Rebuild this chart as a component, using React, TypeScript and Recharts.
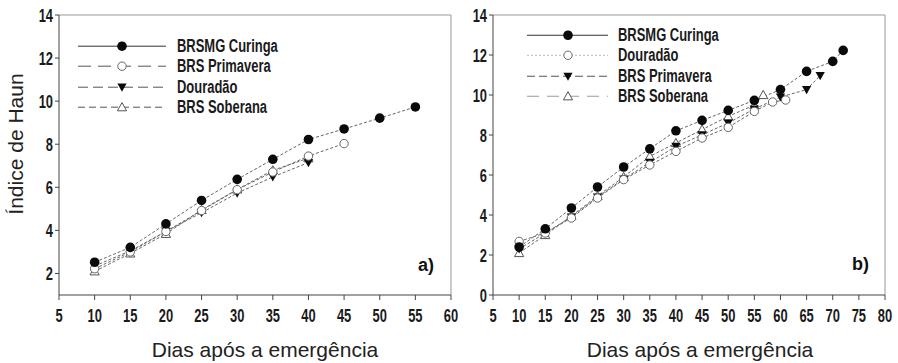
import React from 'react';
import { LineChart, Line, XAxis, YAxis, ReferenceLine, Legend } from 'recharts';

// ---------- Data ----------
const daysA = [10, 15, 20, 25, 30, 35, 40, 45, 50, 55];
const curingaA = [2.52, 3.21, 4.3, 5.39, 6.37, 7.3, 8.22, 8.71, 9.21, 9.73];
const primaveraA = [2.22, 3.0, 3.95, 4.92, 5.89, 6.71, 7.45, 8.03];
const douradaoA = [2.35, 3.05, 3.95, 4.82, 5.73, 6.48, 7.15];
const soberanaA = [2.1, 2.93, 3.84, 4.95, 5.9, 6.79, 7.35];

const curingaBx = [10, 15, 20, 25, 30, 35, 40, 45, 50, 55, 60, 65, 70, 72];
const curingaBy = [2.4, 3.31, 4.35, 5.4, 6.4, 7.31, 8.21, 8.73, 9.23, 9.73, 10.27, 11.18, 11.68, 12.23];
const douradaoBx = [10, 15, 20, 25, 30, 35, 40, 45, 50, 55, 58.5, 61];
const douradaoBy = [2.68, 3.1, 3.85, 4.85, 5.77, 6.5, 7.18, 7.85, 8.38, 9.18, 9.65, 9.75];
const primaveraBx = [10, 15, 20, 25, 30, 35, 40, 45, 50, 55, 60, 65, 67.6];
const primaveraBy = [2.3, 3.1, 3.9, 4.9, 5.8, 6.63, 7.43, 8.01, 8.6, 9.3, 9.9, 10.27, 10.97];
const soberanaBx = [10, 15, 20, 25, 30, 35, 40, 45, 50, 55, 56.7];
const soberanaBy = [2.1, 3.0, 3.95, 4.95, 5.9, 6.93, 7.6, 8.27, 8.93, 9.5, 10.0];

const xTicksA = [5, 10, 15, 20, 25, 30, 35, 40, 45, 50, 55, 60];
const xTicksB = [5, 10, 15, 20, 25, 30, 35, 40, 45, 50, 55, 60, 65, 70, 75, 80];
const yTicksA = [2, 4, 6, 8, 10, 12, 14];
const yTicksB = [0, 2, 4, 6, 8, 10, 12, 14];

const xTitle = 'Dias após a emergência';
const yTitle = 'Índice de Haun';

// ---------- Helpers ----------
const pts = (xs: number[], ys: number[]) => ys.map((y, i) => ({ x: xs[i], y }));

type MarkerKind = 'filledCircle' | 'openCircle' | 'filledDown' | 'openUp';

const Marker = ({ kind, cx, cy }: { kind: MarkerKind; cx: number; cy: number }) => {
  if (kind === 'filledCircle') return <circle cx={cx} cy={cy} r={4.8} fill="#0a0a0a" />;
  if (kind === 'openCircle')
    return <circle cx={cx} cy={cy} r={4.2} fill="#fff" stroke="#666" strokeWidth={1} />;
  if (kind === 'filledDown')
    return (
      <polygon
        points={`${cx - 4.6},${cy - 3.6} ${cx + 4.6},${cy - 3.6} ${cx},${cy + 4.6}`}
        fill="#0a0a0a"
      />
    );
  return (
    <polygon
      points={`${cx - 4.6},${cy + 3.6} ${cx + 4.6},${cy + 3.6} ${cx},${cy - 4.6}`}
      fill="#fff"
      stroke="#555"
      strokeWidth={1}
    />
  );
};

const dotFn = (kind: MarkerKind) => (props: any) => {
  const { cx, cy, index } = props;
  if (cx == null || cy == null) return <g key={`e${index}`} />;
  return (
    <g key={`d${index}`}>
      <Marker kind={kind} cx={cx} cy={cy} />
    </g>
  );
};

const tickFont = "'Liberation Sans', Arial, sans-serif";

const XTick = (props: any) => {
  const { x, y, payload } = props;
  return (
    <g transform={`translate(${x},${y})`}>
      <text
        transform="scale(0.68,1)"
        textAnchor="middle"
        dy="0.71em"
        fontSize={19}
        fontFamily={tickFont}
        fontWeight="bold"
        fill="#1a1a1a"
      >
        {payload.value}
      </text>
    </g>
  );
};

const YTick = (props: any) => {
  const { x, y, payload } = props;
  return (
    <g transform={`translate(${x},${y})`}>
      <text
        transform="scale(0.68,1)"
        textAnchor="end"
        dy="0.36em"
        fontSize={19}
        fontFamily={tickFont}
        fontWeight="bold"
        fill="#1a1a1a"
      >
        {payload.value}
      </text>
    </g>
  );
};

const XLabel = (props: any) => {
  const { viewBox, dx } = props;
  if (!viewBox) return null;
  return (
    <text
      x={viewBox.x + viewBox.width / 2 + dx}
      y={viewBox.y + 62}
      textAnchor="middle"
      fontSize={21}
      fontFamily={tickFont}
      fill="#222"
    >
      {xTitle}
    </text>
  );
};

const YLabel = () => (
  <text
    transform="translate(23,144) rotate(-90)"
    textAnchor="middle"
    fontSize={21}
    fontFamily={tickFont}
    fill="#222"
  >
    {yTitle}
  </text>
);

type LegendItem = { name: string; dash?: string; color: string; kind: MarkerKind };

const LegendBox = ({
  items,
  lineW,
  markerX,
  gap,
  rowH,
}: {
  items: LegendItem[];
  lineW: number;
  markerX: number;
  gap: number;
  rowH: number;
}) => (
  <div>
    {items.map((it) => (
      <div key={it.name} style={{ display: 'flex', alignItems: 'center', height: rowH }}>
        <svg width={lineW} height={rowH} style={{ display: 'block', flex: 'none' }}>
          <line
            x1={0}
            y1={rowH / 2}
            x2={lineW}
            y2={rowH / 2}
            stroke={it.color}
            strokeWidth={1}
            strokeDasharray={it.dash}
          />
          <Marker kind={it.kind} cx={markerX} cy={rowH / 2} />
        </svg>
        <span
          style={{
            marginLeft: gap,
            display: 'inline-block',
            whiteSpace: 'nowrap',
            fontFamily: tickFont,
            fontWeight: 'bold',
            fontSize: 18,
            lineHeight: `${rowH}px`,
            color: '#1a1a1a',
            transform: 'scaleX(0.72)',
            transformOrigin: 'left center',
          }}
        >
          {it.name}
        </span>
      </div>
    ))}
  </div>
);

const legendA: LegendItem[] = [
  { name: 'BRSMG Curinga', color: '#333', kind: 'filledCircle' },
  { name: 'BRS Primavera', dash: '13 7', color: '#555', kind: 'openCircle' },
  { name: 'Douradão', dash: '10 5', color: '#555', kind: 'filledDown' },
  { name: 'BRS Soberana', dash: '7 4', color: '#555', kind: 'openUp' },
];

const legendB: LegendItem[] = [
  { name: 'BRSMG Curinga', color: '#333', kind: 'filledCircle' },
  { name: 'Douradão', dash: '2 2', color: '#bbb', kind: 'openCircle' },
  { name: 'BRS Primavera', dash: '8 4', color: '#555', kind: 'filledDown' },
  { name: 'BRS Soberana', dash: '12 8', color: '#999', kind: 'openUp' },
];

const lineProps = {
  type: 'linear' as const,
  dataKey: 'y',
  stroke: '#666',
  strokeWidth: 1,
  strokeDasharray: '3 2',
  activeDot: false,
  isAnimationActive: false,
};

const labelStyle: React.CSSProperties = {
  position: 'absolute',
  fontFamily: tickFont,
  fontWeight: 'bold',
  fontSize: 18,
  lineHeight: '18px',
  color: '#111',
};

export default function App() {
  return (
    <div
      style={{
        position: 'absolute',
        left: 0,
        top: 0,
        width: 898,
        height: 363,
        background: '#fff',
        overflow: 'hidden',
      }}
    >
      {/* Panel a */}
      <div style={{ position: 'absolute', left: 0, top: 0 }}>
        <LineChart width={460} height={363} margin={{ top: 15, right: 9, bottom: 0, left: 0 }}>
          <XAxis
            type="number"
            dataKey="x"
            domain={[5, 60]}
            ticks={xTicksA}
            interval={0}
            tickSize={5}
            tickMargin={8}
            stroke="#444"
            height={68}
            tick={<XTick />}
            label={<XLabel dx={10} />}
            allowDataOverflow
          />
          <YAxis
            type="number"
            domain={[1, 14]}
            ticks={yTicksA}
            interval={0}
            tickSize={4}
            tickMargin={2}
            stroke="#444"
            width={59}
            tick={<YTick />}
            label={<YLabel />}
            allowDataOverflow
          />
          <ReferenceLine y={14} stroke="#999" />
          <ReferenceLine x={60} stroke="#999" />
          <Line {...lineProps} data={pts(daysA, soberanaA)} name="BRS Soberana" dot={dotFn('openUp')} />
          <Line {...lineProps} data={pts(daysA, douradaoA)} name="Douradão" dot={dotFn('filledDown')} />
          <Line {...lineProps} data={pts(daysA, primaveraA)} name="BRS Primavera" dot={dotFn('openCircle')} />
          <Line {...lineProps} data={pts(daysA, curingaA)} name="BRSMG Curinga" dot={dotFn('filledCircle')} />
          <Legend
            layout="vertical"
            align="center"
            verticalAlign="middle"
            wrapperStyle={{ position: 'absolute', left: 78, top: 35.8, width: 220 }}
            content={() => <LegendBox items={legendA} lineW={88} markerX={44} gap={11} rowH={20.4} />}
          />
        </LineChart>
        <div style={{ ...labelStyle, left: 418, top: 255.5 }}>a)</div>
      </div>

      {/* Panel b */}
      <div style={{ position: 'absolute', left: 440, top: 0 }}>
        <LineChart width={458} height={363} margin={{ top: 15, right: 13, bottom: 0, left: 0 }}>
          <XAxis
            type="number"
            dataKey="x"
            domain={[5, 80]}
            ticks={xTicksB}
            interval={0}
            tickSize={5}
            tickMargin={8}
            stroke="#444"
            height={68}
            tick={<XTick />}
            label={<XLabel dx={11} />}
            allowDataOverflow
          />
          <YAxis
            type="number"
            domain={[0, 14]}
            ticks={yTicksB}
            interval={0}
            tickSize={4}
            tickMargin={2}
            stroke="#444"
            width={53}
            tick={<YTick />}
            allowDataOverflow
          />
          <ReferenceLine y={14} stroke="#999" />
          <ReferenceLine x={80} stroke="#999" />
          <Line {...lineProps} data={pts(soberanaBx, soberanaBy)} name="BRS Soberana" dot={dotFn('openUp')} />
          <Line {...lineProps} data={pts(primaveraBx, primaveraBy)} name="BRS Primavera" dot={dotFn('filledDown')} />
          <Line {...lineProps} data={pts(douradaoBx, douradaoBy)} name="Douradão" dot={dotFn('openCircle')} />
          <Line {...lineProps} data={pts(curingaBx, curingaBy)} name="BRSMG Curinga" dot={dotFn('filledCircle')} />
          <Legend
            layout="vertical"
            align="center"
            verticalAlign="middle"
            wrapperStyle={{ position: 'absolute', left: 87, top: 24.7, width: 220 }}
            content={() => <LegendBox items={legendB} lineW={81} markerX={41} gap={9.7} rowH={20.5} />}
          />
        </LineChart>
        <div style={{ ...labelStyle, left: 412, top: 255 }}>b)</div>
      </div>
    </div>
  );
}
